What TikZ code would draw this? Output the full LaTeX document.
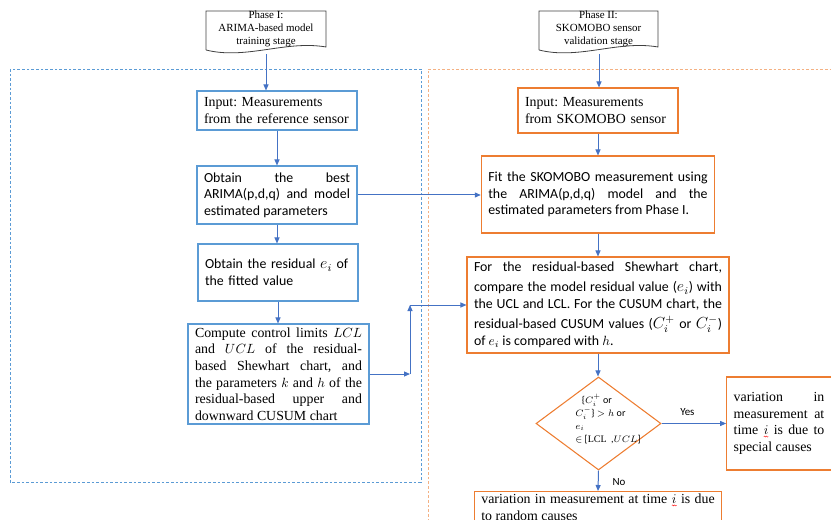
\documentclass[tikz,border=0pt]{standalone}
\usepackage{fontspec}
\setmainfont{Liberation Serif}
\newfontfamily\calfont{Carlito}
\usepackage{tikz}
\usetikzlibrary{arrows.meta,shapes.geometric,positioning,decorations.pathmorphing}
\definecolor{boxblue}{RGB}{91,155,213}
\definecolor{linkblue}{RGB}{68,114,196}
\definecolor{boxorange}{RGB}{237,125,49}
\definecolor{dashorange}{RGB}{244,177,131}
\newcommand{\spellmark}[1]{\tikz[baseline=(s.base)]{\node[inner sep=0pt, outer sep=0pt, minimum width=0pt, minimum height=0pt, text width=, align=center, draw=none, fill=none] (s) {#1};
  \draw[red, line width=0.3pt, decorate, decoration={snake, amplitude=0.4pt, segment length=1.5pt}] ([yshift=-1.2pt]s.south west) -- ([yshift=-1.2pt]s.south east);}}
\tikzset{
  box/.style={line width=0.8pt, inner xsep=5.25pt, inner ysep=2pt, align=left, font=\fontsize{10.4}{12.5}\selectfont},
  bluebox/.style={box, draw=boxblue},
  orangebox/.style={box, draw=boxorange},
  calbox/.style={font=\calfont\fontsize{10.4}{12.5}\selectfont},
  jbox/.style={align=justify},
  arr/.style={draw=linkblue, line width=0.75pt, -{Triangle[length=4.5pt,width=3.75pt]}},
  docshape/.style={draw=black!75, line width=0.6pt},
  phase/.style={align=center, font=\fontsize{8.2}{10}\selectfont},
  decide/.style={diamond, draw=boxorange, line width=0.8pt, inner sep=0pt, minimum width=93.75pt, minimum height=69.75pt},
}

\begin{document}
\frenchspacing
\begin{tikzpicture}[x=0.75pt,y=-0.75pt]
\useasboundingbox (0,0) rectangle (831,520);
\clip (0,0) rectangle (831,520);

% stage frames
\draw[boxblue, line width=0.7pt, dash pattern=on 2pt off 1.5pt] (10,69) rectangle (421,482);
\draw[dashorange, line width=0.7pt, dash pattern=on 2pt off 1.5pt] (428,540) -- (428,69) -- (840,69);

% phase I
\draw[docshape] (206,50) -- (206,11) -- (326,11) -- (326,47) .. controls (286,40) and (246,60) .. (206,50);
\node[phase] (ph1) at (266,29) {Phase I:\\ARIMA-based model\\training stage};
\coordinate (ph1b) at (266,54);

\node[bluebox, text width=109.5pt, minimum height=29.25pt] (in1) at (277,110.5) {Input: Measurements\\from the reference sensor};
\node[bluebox, calbox, jbox, text width=109.5pt, minimum height=43.5pt] (best) at (277,195) {Obtain the best\linebreak ARIMA(p,d,q) and model\linebreak estimated parameters};
\node[bluebox, calbox, text width=109.5pt, minimum height=42.75pt] (resid) at (278,272.5) {Obtain the residual {\large$e_i$} of\\the fitted value};
\node[bluebox, jbox, text width=125.25pt, minimum height=75pt] (limits) at (278.5,374) {Compute control limits $LCL$\linebreak and $UCL$ of the residual-\linebreak based Shewhart chart, and\linebreak the parameters $k$ and $h$ of the\linebreak residual-based upper and\linebreak downward CUSUM chart};

% phase II
\draw[docshape] (539,50) -- (539,11) -- (658,11) -- (658,47) .. controls (618,40) and (579,60) .. (539,50);
\node[phase] (ph2) at (598.5,29) {Phase II:\\SKOMOBO sensor\\validation stage};
\coordinate (ph2b) at (599,54);

\node[orangebox, text width=109.5pt, minimum height=33.75pt] (in2) at (598,110.5) {Input: Measurements\\from SKOMOBO sensor};
\node[orangebox, calbox, jbox, text width=164.5pt, minimum height=57.75pt] (fit) at (598,194.5) {Fit the SKOMOBO measurement using\linebreak the ARIMA(p,d,q) model and the\linebreak estimated parameters from Phase I.};
\node[orangebox, calbox, jbox, text width=186pt, minimum height=72pt] (cmp) at (598,305) {For the residual-based Shewhart chart,\linebreak \rule{0pt}{12.5pt}compare the model residual value ({\large$e_i$}) with\linebreak the UCL and LCL. For the CUSUM chart, the\linebreak \rule{0pt}{13pt}residual-based CUSUM values ({\large$C_i^+$} or {\large$C_i^-$})\linebreak of $e_i$ is compared with $h$.};

\node[decide] (dec) at (598.5,423.5) {};
\node[anchor=west, align=left, inner sep=0pt, font=\calfont\fontsize{7.5}{9.75}\selectfont] (dect) at (575,419) {\hspace{5pt}\{$C_i^+$ or\\$C_i^-$\} $>h$ or\\$e_i$\\$\in$ [\textrm{LCL}\ \ ,$UCL$]};

\node[orangebox, jbox, text width=68pt, minimum height=69.75pt] (spec) at (779,423.5) {variation in\linebreak measurement at\linebreak time \spellmark{$i$} is due to\linebreak special causes};
\node[orangebox, jbox, text width=175pt, anchor=north] (rand) at (598,491) {variation in measurement at time \spellmark{$i$} is due\linebreak to random causes};

% connectors
\draw[arr] (ph1b) -- (ph1b |- in1.north);
\draw[arr] (in1.south) -- (best.north);
\draw[arr] (best.south) -- (best.south |- resid.north);
\draw[arr] (resid.south) -- (resid.south |- limits.north);
\draw[arr] (best.east) -- (best.east -| fit.west);
\coordinate (j1) at (410,374);
\coordinate (j2) at (410,305);
\draw[arr] (limits.east) -- (j1);
\draw[arr] (j1) -- (j2);
\draw[arr] (j2) -- (cmp.west);
\draw[arr] (ph2b) -- (ph2b |- in2.north);
\draw[arr] (in2.south) -- (fit.north);
\draw[arr] (fit.south) -- (cmp.north);
\draw[arr] (cmp.south) -- (cmp.south |- dec.north);
\draw[arr] (dec.east) -- node[pos=0.4, above=2pt, font=\calfont\fontsize{8.2}{10}\selectfont] (yes) {Yes} (spec.west);
\draw[arr] (dec.south) -- node[pos=0.55, anchor=west, xshift=7pt, font=\calfont\fontsize{8.2}{10}\selectfont] (no) {No} (rand.north);
\end{tikzpicture}
\end{document}
